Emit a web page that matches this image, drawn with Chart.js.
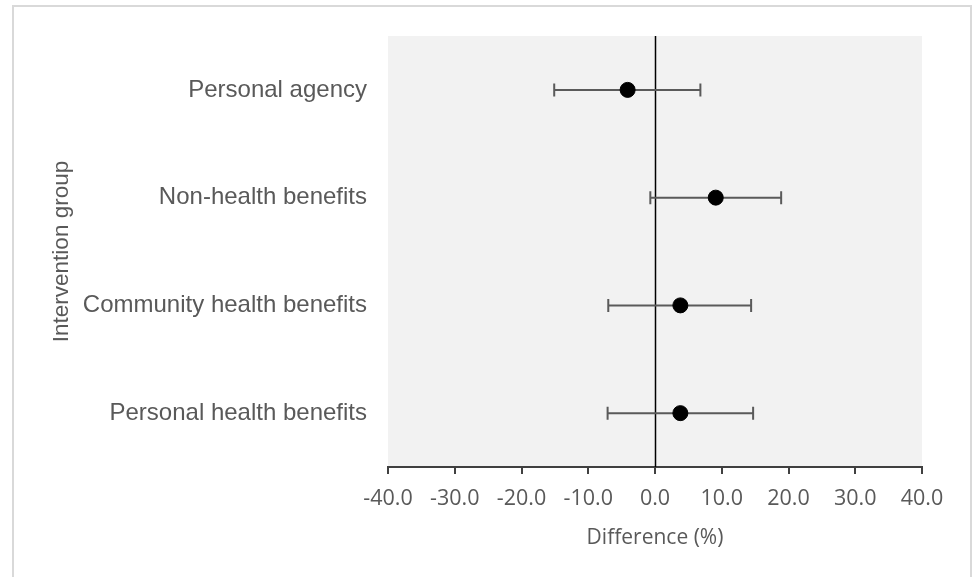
<!DOCTYPE html>
<html>
<head>
<meta charset="utf-8">
<script src="https://cdn.jsdelivr.net/npm/chart.js@4/dist/chart.umd.min.js"></script>
<style>
  html, body { margin: 0; padding: 0; background: #fff; }
  canvas { display: block; }
</style>
</head>
<body>
<canvas id="chart" width="972" height="577"></canvas>
<script>
  // data (difference in %, with 95% interval)
  const groups = ["Personal agency", "Non-health benefits", "Community health benefits", "Personal health benefits"];
  const means = [-4.1, 9.1, 3.8, 3.8];
  const lower = [-15.1, -0.7, -7.0, -7.1];
  const upper = [6.8, 18.9, 14.4, 14.7];
  const xTicks = [-40, -30, -20, -10, 0, 10, 20, 30, 40];

  const catFont = "'Liberation Sans', Arial, sans-serif";
  const numFont = "'Open Sans', 'Noto Sans', sans-serif";

  /**
   * grey plot area + outer frame
   */
  const backdrop = {
    id: "backdrop",
    beforeDraw: (chart) => {
      const { ctx, chartArea: a } = chart;
      ctx.save();
      ctx.fillStyle = "#fff";
      ctx.fillRect(0, 0, chart.width, chart.height);
      ctx.strokeStyle = "#d9d9d9";
      ctx.lineWidth = 2;
      ctx.strokeRect(13, 6, 958, 620);
      ctx.fillStyle = "#f2f2f2";
      ctx.fillRect(a.left, a.top, a.right - a.left, a.bottom - a.top);
      ctx.restore();
    },
  };

  /**
   * zero line and whiskers, under the dots
   */
  const whiskers = {
    id: "whiskers",
    beforeDatasetsDraw: (chart) => {
      const { ctx, chartArea: a, scales } = chart;
      const x = scales.x;
      const y = scales.y;
      ctx.save();
      ctx.strokeStyle = "#000";
      ctx.lineWidth = 1.5;
      const x0 = Math.round(x.getPixelForValue(0)) + 0.5;
      ctx.beginPath();
      ctx.moveTo(x0, a.top);
      ctx.lineTo(x0, a.bottom);
      ctx.stroke();

      ctx.strokeStyle = "#5a5a5a";
      ctx.lineWidth = 2;
      groups.forEach((g, i) => {
        const py = y.getPixelForValue(i);
        const xl = x.getPixelForValue(lower[i]);
        const xh = x.getPixelForValue(upper[i]);
        ctx.beginPath();
        ctx.moveTo(xl, py);
        ctx.lineTo(xh, py);
        ctx.moveTo(xl, py - 6.5);
        ctx.lineTo(xl, py + 6.5);
        ctx.moveTo(xh, py - 6.5);
        ctx.lineTo(xh, py + 6.5);
        ctx.stroke();
      });
      ctx.restore();
    },
  };

  new Chart(document.getElementById("chart").getContext("2d"), {
    type: "scatter",
    data: {
      datasets: [
        {
          data: groups.map((g, i) => ({ x: means[i], y: g })),
          backgroundColor: "#000",
          borderColor: "#000",
          pointRadius: 7.5,
          pointHoverRadius: 7.5,
        },
      ],
    },
    options: {
      responsive: false,
      animation: false,
      devicePixelRatio: 1,
      layout: { padding: { top: 36, right: 50, left: 0, bottom: 0 } },
      plugins: {
        legend: { display: false },
        tooltip: { enabled: false },
      },
      scales: {
        x: {
          type: "linear",
          min: -40,
          max: 40,
          afterBuildTicks: (scale) => {
            scale.ticks = xTicks.map((v) => ({ value: v }));
          },
          afterFit: (scale) => {
            scale.height = 110;
          },
          border: { display: true, color: "#404040", width: 2 },
          grid: {
            drawOnChartArea: false,
            drawTicks: true,
            tickLength: 7,
            color: "#404040",
            lineWidth: 2,
          },
          ticks: {
            padding: 12,
            color: "#595959",
            font: { family: numFont, size: 21.5 },
            maxRotation: 0,
            callback: (v) => Number(v).toFixed(1),
          },
          title: {
            display: true,
            text: "Difference (%)",
            color: "#595959",
            font: { family: numFont, size: 21 },
            padding: { top: 0, bottom: 26 },
          },
        },
        y: {
          type: "category",
          labels: groups,
          offset: true,
          afterFit: (scale) => {
            scale.width = 388;
          },
          border: { display: false },
          grid: { display: false, drawTicks: false },
          ticks: {
            padding: 21,
            color: "#595959",
            font: { family: catFont, size: 24 },
          },
          title: {
            display: true,
            text: "Intervention group",
            color: "#595959",
            font: { family: catFont, size: 22.5 },
            padding: { top: 48, bottom: 0 },
          },
        },
      },
    },
    plugins: [backdrop, whiskers],
  });
</script>
</body>
</html>
